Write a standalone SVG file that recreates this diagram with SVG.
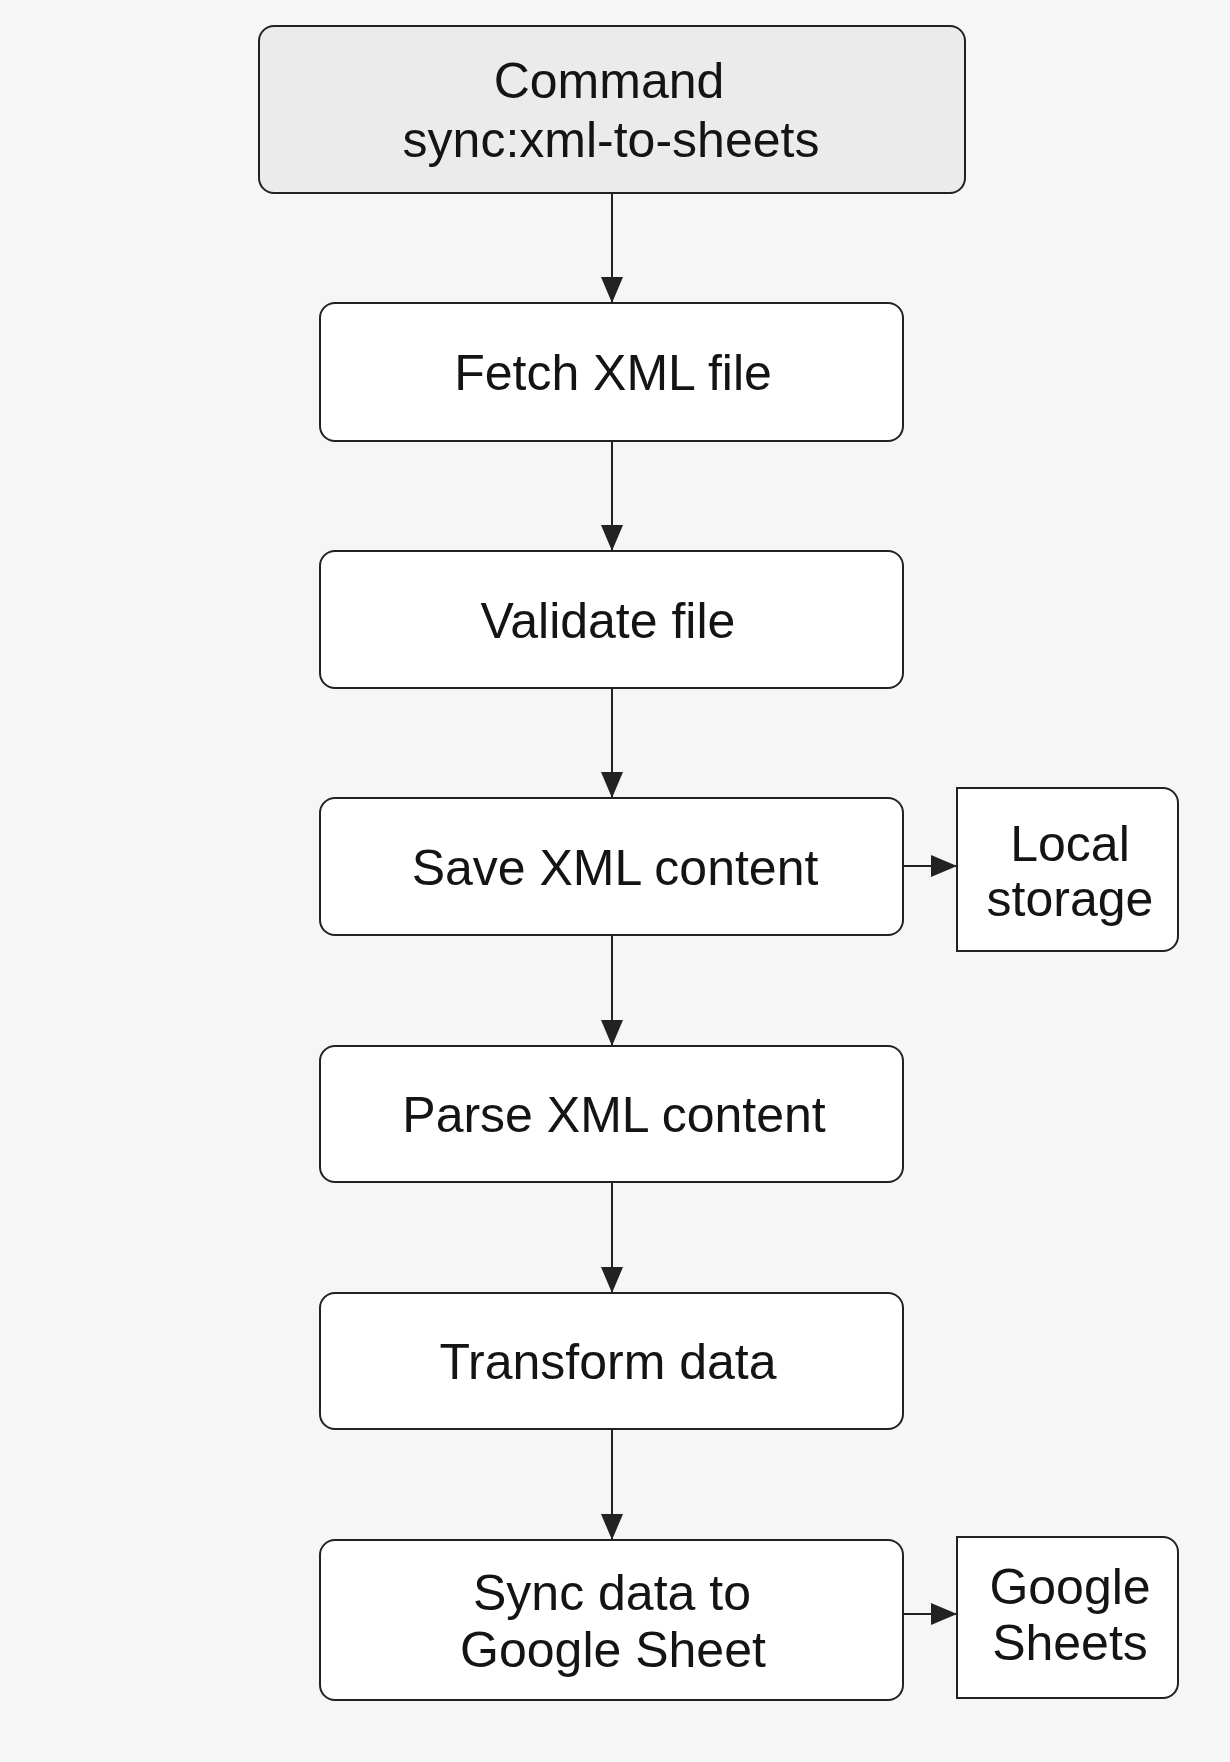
<svg xmlns="http://www.w3.org/2000/svg" width="1230" height="1762" viewBox="0 0 1230 1762">
<defs>
<style>
.box{fill:#ffffff;stroke:#222222;stroke-width:2}
.cmd{fill:#ebebeb;stroke:#222222;stroke-width:2}
.t{font-family:"Liberation Sans",Arial,sans-serif;font-size:50px;fill:#141414;text-anchor:middle}
.edge{stroke:#222222;stroke-width:2;fill:none}
</style>
<marker id="arr" viewBox="0 0 26 22" refX="26" refY="11" markerWidth="26" markerHeight="22" markerUnits="userSpaceOnUse" orient="auto">
<path d="M0,0 L26,11 L0,22 Z" fill="#222222"/>
</marker>
</defs>
<rect x="0" y="0" width="1230" height="1762" fill="#f6f6f6"/>
<g id="connectors">
<line class="edge" x1="612" y1="193" x2="612" y2="303" marker-end="url(#arr)"/>
<line class="edge" x1="612" y1="441" x2="612" y2="551" marker-end="url(#arr)"/>
<line class="edge" x1="612" y1="688" x2="612" y2="798" marker-end="url(#arr)"/>
<line class="edge" x1="612" y1="935" x2="612" y2="1046" marker-end="url(#arr)"/>
<line class="edge" x1="612" y1="1182" x2="612" y2="1293" marker-end="url(#arr)"/>
<line class="edge" x1="612" y1="1429" x2="612" y2="1540" marker-end="url(#arr)"/>
<line class="edge" x1="903" y1="866" x2="957" y2="866" marker-end="url(#arr)"/>
<line class="edge" x1="903" y1="1614" x2="957" y2="1614" marker-end="url(#arr)"/>
</g>
<g id="command">
<rect class="cmd" x="259" y="26" width="706" height="167" rx="15"/>
<text class="t" x="609" y="98">Command</text>
<text class="t" x="611" y="157">sync:xml-to-sheets</text>
</g>
<g id="fetch">
<rect class="box" x="320" y="303" width="583" height="138" rx="15"/>
<text class="t" x="613" y="390">Fetch XML file</text>
</g>
<g id="validate">
<rect class="box" x="320" y="551" width="583" height="137" rx="15"/>
<text class="t" x="608" y="638">Validate file</text>
</g>
<g id="save">
<rect class="box" x="320" y="798" width="583" height="137" rx="15"/>
<text class="t" x="615" y="885">Save XML content</text>
</g>
<g id="local-storage">
<path class="box" d="M957,788 H1163 A15,15 0 0 1 1178,803 V936 A15,15 0 0 1 1163,951 H957 Z"/>
<text class="t" x="1070" y="861">Local</text>
<text class="t" x="1070" y="916">storage</text>
</g>
<g id="parse">
<rect class="box" x="320" y="1046" width="583" height="136" rx="15"/>
<text class="t" x="614" y="1132">Parse XML content</text>
</g>
<g id="transform">
<rect class="box" x="320" y="1293" width="583" height="136" rx="15"/>
<text class="t" x="608" y="1379">Transform data</text>
</g>
<g id="sync">
<rect class="box" x="320" y="1540" width="583" height="160" rx="15"/>
<text class="t" x="612" y="1610">Sync data to</text>
<text class="t" x="613" y="1667">Google Sheet</text>
</g>
<g id="google-sheets">
<path class="box" d="M957,1537 H1163 A15,15 0 0 1 1178,1552 V1683 A15,15 0 0 1 1163,1698 H957 Z"/>
<text class="t" x="1070" y="1604">Google</text>
<text class="t" x="1070" y="1660">Sheets</text>
</g>
</svg>
